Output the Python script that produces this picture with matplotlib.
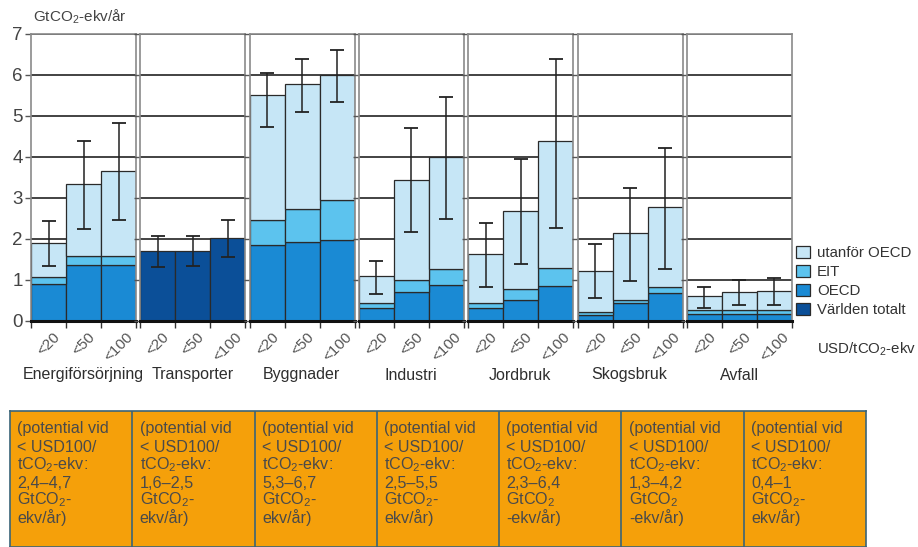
import matplotlib
matplotlib.use("Agg")
import matplotlib.pyplot as plt
from matplotlib.patches import Patch

plt.rcParams['font.family'] = ['Liberation Sans', 'DejaVu Sans']
plt.rcParams['mathtext.fontset'] = 'custom'
plt.rcParams['mathtext.rm'] = 'Liberation Sans'
plt.rcParams['mathtext.it'] = 'Liberation Sans:italic'

sectors = ['Energiförsörjning', 'Transporter', 'Byggnader', 'Industri',
           'Jordbruk', 'Skogsbruk', 'Avfall']
price_labels = ['<20', '<50', '<100']

# segment sizes per sector, one value per price level (GtCO2-ekv/år)
oecd = [[0.90, 1.35, 1.35], [0, 0, 0], [1.84, 1.92, 1.97], [0.30, 0.69, 0.87],
        [0.30, 0.50, 0.84], [0.13, 0.42, 0.67], [0.17, 0.17, 0.17]]
eit = [[0.16, 0.22, 0.22], [0, 0, 0], [0.60, 0.79, 0.97], [0.12, 0.31, 0.38],
       [0.13, 0.27, 0.43], [0.07, 0.09, 0.15], [0.08, 0.08, 0.08]]
non_oecd = [[0.84, 1.75, 2.08], [0, 0, 0], [3.06, 3.05, 3.04], [0.66, 2.42, 2.75],
            [1.19, 1.89, 3.10], [1.01, 1.62, 1.94], [0.35, 0.44, 0.46]]
world = [[0, 0, 0], [1.70, 1.70, 2.02], [0, 0, 0], [0, 0, 0],
         [0, 0, 0], [0, 0, 0], [0, 0, 0]]

# uncertainty ranges (low, high)
err_low = [[1.33, 2.24, 2.45], [1.31, 1.33, 1.56], [4.71, 5.09, 5.34], [0.65, 2.17, 2.48],
           [0.82, 1.39, 2.26], [0.56, 0.96, 1.25], [0.30, 0.38, 0.38]]
err_high = [[2.42, 4.37, 4.81], [2.07, 2.07, 2.45], [6.04, 6.37, 6.60], [1.45, 4.70, 5.46],
            [2.37, 3.93, 6.39], [1.86, 3.24, 4.21], [0.82, 0.99, 1.04]]

potential = ['2,4–4,7', '1,6–2,5', '5,3–6,7', '2,5–5,5', '2,3–6,4', '1,3–4,2', '0,4–1']
split_unit = [False, False, False, False, True, True, False]

c_non = '#C6E6F6'
c_eit = '#5CC3EE'
c_oecd = '#1A8AD4'
c_world = '#0B4F98'
edge = '#2a2a2a'

W, H = 918, 547
fig = plt.figure(figsize=(W / 100, H / 100), dpi=100)


def fx(px):
    return px / W


def fy(py):
    return 1 - py / H


x = [0.5, 1.5, 2.5]
for i, name in enumerate(sectors):
    left = 31 + i * 109.33
    ax = fig.add_axes([fx(left), fy(320.5), 105 / W, 287 / H])
    ax.set_xlim(0, 3)
    ax.set_ylim(0, 7)
    ax.set_axisbelow(True)
    ax.set_yticks(range(8))
    ax.yaxis.grid(True, color='#222222', lw=1.2)

    b0 = [0, 0, 0]
    for vals, col in [(world[i], c_world), (oecd[i], c_oecd),
                      (eit[i], c_eit), (non_oecd[i], c_non)]:
        if max(vals) == 0:
            continue
        ax.bar(x, vals, width=1, bottom=b0, color=col, edgecolor=edge, lw=0.9)
        b0 = [a + b for a, b in zip(b0, vals)]

    tops = b0
    ax.errorbar(x, tops, yerr=[[t - l for t, l in zip(tops, err_low[i])],
                               [h - t for t, h in zip(tops, err_high[i])]],
                fmt='none', ecolor='#222222', elinewidth=1.1, capsize=5, capthick=1.3)

    for s in ['left', 'right', 'top']:
        ax.spines[s].set_color('#8a8a8a')
        ax.spines[s].set_linewidth(1.2)
    ax.spines['bottom'].set_color('#111111')
    ax.spines['bottom'].set_linewidth(2.2)

    ax.set_xticks([0, 1, 2, 3])
    ax.set_xticklabels([])
    ax.tick_params(axis='x', which='major', length=5, width=1, color='#333333')
    ax.set_xticks(x, minor=True)
    ax.set_xticklabels(price_labels, minor=True, rotation=45, fontsize=11,
                       color='#555555', ha='center', va='top')
    ax.tick_params(axis='x', which='minor', length=0, pad=7)
    ax.tick_params(axis='y', length=4, width=1, color='#555555',
                   labelsize=13.5, labelcolor='#444444', pad=2)
    if i > 0:
        ax.set_yticklabels([])

    fig.text(fx(left + 52), fy(375), name, ha='center', va='center',
             fontsize=11.5, color='#2e2e2e')

fig.text(fx(33), fy(17), 'GtCO$_2$-ekv/år', fontsize=11, color='#444444',
         va='center')

handles = [Patch(facecolor=c, edgecolor=edge, lw=0.9)
           for c in [c_non, c_eit, c_oecd, c_world]]
fig.legend(handles, ['utanför OECD', 'EIT', 'OECD', 'Världen totalt'],
           loc='upper left', bbox_to_anchor=(fx(790), fy(240)), frameon=False,
           fontsize=10.8, handlelength=0.9, handleheight=0.9, handletextpad=0.5,
           labelspacing=0.3, labelcolor='#333333', borderaxespad=0)
fig.text(fx(817), fy(349), 'USD/tCO$_2$-ekv', fontsize=10.8, color='#333333',
         va='center')

# orange boxes with potential per sector
bx = fig.add_axes([fx(10), 0, (866 - 10) / W, (547 - 411) / H])
bx.set_xlim(0, 7)
bx.set_ylim(136, 0)
bx.set_facecolor('#F5A00A')
bx.set_xticks([])
bx.set_yticks([])
for s in bx.spines.values():
    s.set_color('#3a6478')
    s.set_linewidth(1.2)
for k in range(1, 7):
    bx.axvline(k, color='#3a6478', lw=1.2)

line_y = [18, 36, 54, 72, 89, 107]
for k, rng in enumerate(potential):
    if split_unit[k]:
        last = ['GtCO$_2$', '-ekv/år)']
    else:
        last = ['GtCO$_2$-', 'ekv/år)']
    lines = ['(potential vid', '< USD100/', 'tCO$_2$-ekv:', rng] + last
    for ly, t in zip(line_y, lines):
        bx.text(k + 0.06, ly, t, fontsize=11.6, color='#4a4a4a', va='center',
                ha='left')

fig.savefig('out.png', dpi=100)
